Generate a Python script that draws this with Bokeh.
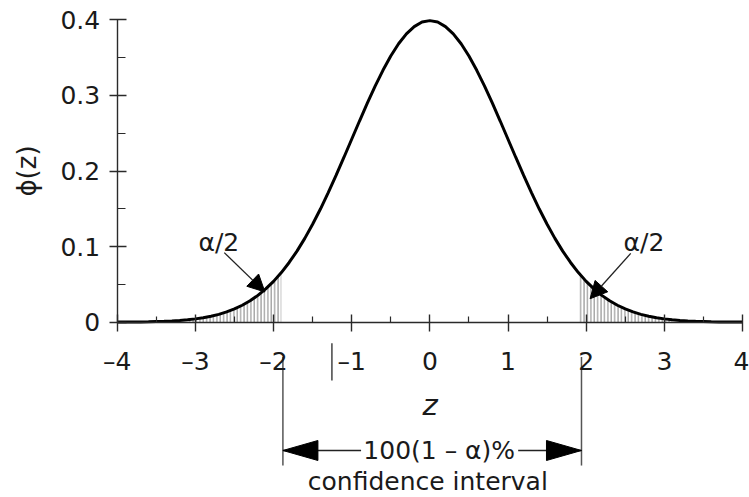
from bokeh.plotting import figure
from bokeh.models import Range1d, FixedTicker, Arrow, NormalHead
from bokeh.core.properties import value
from bokeh.embed import file_html
from bokeh.resources import INLINE
import numpy as np

# ---- data (standard normal density) ----
z = [-4.0, -3.9, -3.8, -3.7, -3.6, -3.5, -3.4, -3.3, -3.2, -3.1,
     -3.0, -2.9, -2.8, -2.7, -2.6, -2.5, -2.4, -2.3, -2.2, -2.1,
     -2.0, -1.9, -1.8, -1.7, -1.6, -1.5, -1.4, -1.3, -1.2, -1.1,
     -1.0, -0.9, -0.8, -0.7, -0.6, -0.5, -0.4, -0.3, -0.2, -0.1,
     0.0, 0.1, 0.2, 0.3, 0.4, 0.5, 0.6, 0.7, 0.8, 0.9,
     1.0, 1.1, 1.2, 1.3, 1.4, 1.5, 1.6, 1.7, 1.8, 1.9,
     2.0, 2.1, 2.2, 2.3, 2.4, 2.5, 2.6, 2.7, 2.8, 2.9,
     3.0, 3.1, 3.2, 3.3, 3.4, 3.5, 3.6, 3.7, 3.8, 3.9, 4.0]
phi = [0.0001, 0.0002, 0.0003, 0.0004, 0.0006, 0.0009, 0.0012, 0.0017, 0.0024, 0.0033,
       0.0044, 0.0060, 0.0079, 0.0104, 0.0136, 0.0175, 0.0224, 0.0283, 0.0355, 0.0440,
       0.0540, 0.0656, 0.0790, 0.0940, 0.1109, 0.1295, 0.1497, 0.1714, 0.1942, 0.2179,
       0.2420, 0.2661, 0.2897, 0.3123, 0.3332, 0.3521, 0.3683, 0.3814, 0.3910, 0.3970,
       0.3989, 0.3970, 0.3910, 0.3814, 0.3683, 0.3521, 0.3332, 0.3123, 0.2897, 0.2661,
       0.2420, 0.2179, 0.1942, 0.1714, 0.1497, 0.1295, 0.1109, 0.0940, 0.0790, 0.0656,
       0.0540, 0.0440, 0.0355, 0.0283, 0.0224, 0.0175, 0.0136, 0.0104, 0.0079, 0.0060,
       0.0044, 0.0033, 0.0024, 0.0017, 0.0012, 0.0009, 0.0006, 0.0004, 0.0003, 0.0002, 0.0001]

x_ticks = [-4, -3, -2, -1, 0, 1, 2, 3, 4]
x_minor_ticks = [-3.5, -2.5, -1.5, -0.5, 0.5, 1.5, 2.5, 3.5]
x_tick_labels = ["\u20134", "\u20133", "\u20132", "\u20131", "0", "1", "2", "3", "4"]
y_ticks = [0, 0.1, 0.2, 0.3, 0.4]
y_minor_ticks = [0.05, 0.15, 0.25, 0.35]
y_tick_labels = ["0", "0.1", "0.2", "0.3", "0.4"]

left_tail = (-3.1, -1.9)
right_tail = (1.9, 3.1)
ci_bounds = (-1.88, 1.94)          # dimension lines of the confidence interval
alpha_label = "\u03b1/2"
ci_label = "100(1 \u2013 \u03b1)%"
ci_label2 = "confidence interval"

# annotation anchor points (data units)
alpha_text_x = [-2.70, 2.74]
alpha_text_y = [0.1054, 0.1054]
alpha_arrow_start = [(-2.63, 0.092), (2.57, 0.091)]
alpha_arrow_end = [(-2.11, 0.040), (2.05, 0.031)]
dim_top, dim_bottom = -0.046, -0.1896
dim_arrow_y = -0.1697
ci_text_x = 0.12
ci_gap = (-0.88, 1.13)
ci_text2_x = -0.026
ci_text2_y = -0.2110
odd_bar_x, odd_bar_y = -1.253, (-0.028, -0.077)

FONT = "DejaVu Sans"
FS = "25px"
INK = "#2a2a2a"
W, H = 749, 497

p = figure(width=W, height=H,
           x_range=Range1d(-5.4931, 4.0896), y_range=Range1d(-0.23188, 0.42553),
           output_backend="svg", toolbar_location=None, min_border=0)
p.outline_line_color = None
p.grid.visible = False
p.background_fill_color = "white"
p.border_fill_color = "white"

zs = np.array(z)
ps = np.array(phi)

# hatched tails
for lo, hi in (left_tail, right_tail):
    m = (zs >= lo - 1e-9) & (zs <= hi + 1e-9)
    p.varea(x=zs[m], y1=np.zeros(m.sum()), y2=ps[m], fill_color="white", fill_alpha=0.0,
            hatch_pattern="vertical_line", hatch_color="#a8a8a8", hatch_scale=3.4, hatch_weight=1.5)

# density curve
p.line(z, phi, line_color="black", line_width=3)

# axes
xa = p.xaxis[0]
xa.fixed_location = 0
xa.bounds = (-4, 4)
xa.ticker = FixedTicker(ticks=x_ticks, minor_ticks=x_minor_ticks)
xa.major_label_overrides = {t: s for t, s in zip(x_ticks, x_tick_labels)}
xa.major_tick_in = 8
xa.major_tick_out = 9
xa.minor_tick_in = 6
xa.minor_tick_out = 0
xa.major_label_standoff = 16
xa.axis_label = "z"
xa.axis_label_text_font = FONT
xa.axis_label_text_font_size = "29px"
xa.axis_label_text_font_style = "italic"
xa.axis_label_standoff = 8

ya = p.yaxis[0]
ya.fixed_location = -4
ya.bounds = (0, 0.4)
ya.ticker = FixedTicker(ticks=y_ticks, minor_ticks=y_minor_ticks)
ya.major_label_overrides = {t: s for t, s in zip(y_ticks, y_tick_labels)}
ya.major_tick_in = 9
ya.major_tick_out = 8
ya.minor_tick_in = 8
ya.minor_tick_out = 0
ya.major_label_standoff = 9
ya.axis_label = "\u03d5(z)"
ya.axis_label_text_font = FONT
ya.axis_label_text_font_size = "26px"
ya.axis_label_text_font_style = "normal"
ya.axis_label_standoff = 16

for ax in (xa, ya):
    ax.axis_line_color = INK
    ax.axis_line_width = 1.4
    ax.major_tick_line_color = INK
    ax.major_tick_line_width = 1.4
    ax.minor_tick_line_color = INK
    ax.minor_tick_line_width = 1.2
    ax.major_label_text_font = FONT
    ax.major_label_text_font_size = FS
    ax.major_label_text_color = "#1a1a1a"
    ax.axis_label_text_color = "#1a1a1a"

# alpha/2 labels and arrows
p.text(x=alpha_text_x, y=alpha_text_y, text=[alpha_label, alpha_label],
       text_font=value(FONT), text_font_size=value(FS), text_color="#1a1a1a",
       text_align="center", text_baseline="middle")
for (xs0, ys0), (xe, ye) in zip(alpha_arrow_start, alpha_arrow_end):
    p.add_layout(Arrow(end=NormalHead(size=17, fill_color="black", line_color="black", line_width=1),
                       x_start=xs0, y_start=ys0, x_end=xe, y_end=ye,
                       line_color="#222222", line_width=1.3))

# confidence interval dimension lines
p.segment(x0=list(ci_bounds), y0=[dim_top, dim_top], x1=list(ci_bounds), y1=[dim_bottom, dim_bottom],
          line_color="#555555", line_width=1.5)
p.segment(x0=[ci_bounds[0], ci_gap[1]], y0=[dim_arrow_y] * 2, x1=[ci_gap[0], ci_bounds[1]], y1=[dim_arrow_y] * 2,
          line_color="#222222", line_width=1.3)
head_len = 35 / 78.16
head_half = 10 / 756.0
p.patches(xs=[[ci_bounds[0], ci_bounds[0] + head_len, ci_bounds[0] + head_len],
              [ci_bounds[1], ci_bounds[1] - head_len, ci_bounds[1] - head_len]],
          ys=[[dim_arrow_y, dim_arrow_y + head_half, dim_arrow_y - head_half]] * 2,
          fill_color="black", line_color="black", line_width=1)
p.text(x=[ci_text_x], y=[dim_arrow_y], text=[ci_label],
       text_font=value(FONT), text_font_size=value(FS), text_color="#1a1a1a",
       text_align="center", text_baseline="middle")
p.text(x=[ci_text2_x], y=[ci_text2_y], text=[ci_label2],
       text_font=value(FONT), text_font_size=value(FS), text_color="#1a1a1a",
       text_align="center", text_baseline="middle")

# stray vertical mark next to the -1 label
p.segment(x0=[odd_bar_x], y0=[odd_bar_y[0]], x1=[odd_bar_x], y1=[odd_bar_y[1]],
          line_color="#444444", line_width=1.5)

open("out.html", "w").write(file_html(p, INLINE))
